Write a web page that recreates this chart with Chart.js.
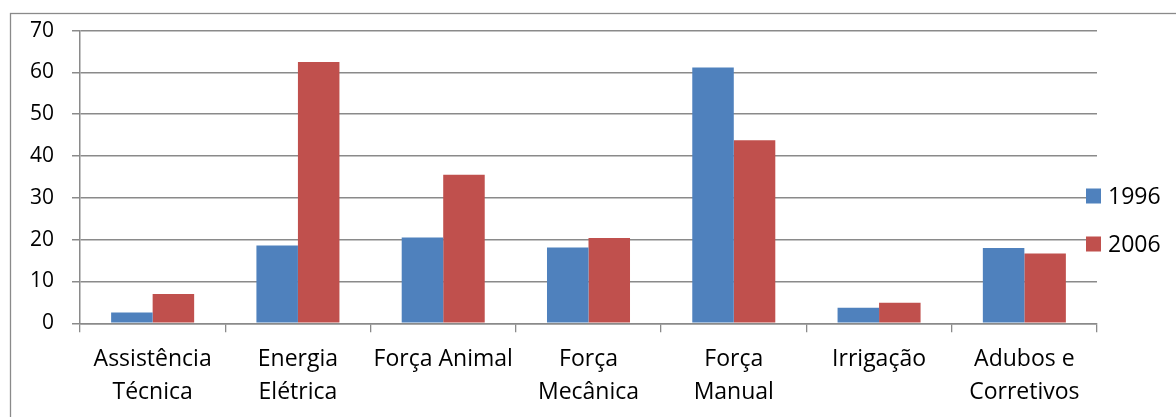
<!DOCTYPE html>
<html>
<head>
<meta charset="utf-8">
<script src="https://cdn.jsdelivr.net/npm/chart.js@4/dist/chart.umd.min.js"></script>
<style>
  html, body { margin: 0; padding: 0; background: #ffffff; }
  #wrap { width: 1176px; height: 417px; position: relative; }
</style>
</head>
<body>
<div id="wrap"><canvas id="c" width="1176" height="417"></canvas></div>
<script>
// Categorias (rótulos do eixo X, quebrados em linhas)
const categorias = [
  ['Assistência', 'Técnica'],
  ['Energia', 'Elétrica'],
  'Força Animal',
  ['Força', 'Mecânica'],
  ['Força', 'Manual'],
  'Irrigação',
  ['Adubos e', 'Corretivos']
];

// Séries
const rotulosSeries = ['1996', '2006'];
const valores1996 = [2.6, 18.6, 20.5, 18.1, 61.2, 3.7, 18.0];
const valores2006 = [7.0, 62.5, 35.5, 20.4, 43.8, 4.9, 16.7];

// Eixo Y
const yMin = 0;
const yMax = 70;
const yPasso = 10;

const AZUL = '#4F81BD';
const VERMELHO = '#C0504D';
const CINZA = '#8a8a8a';
const FONTE = "'Open Sans', 'Noto Sans', sans-serif";

// Moldura externa do gráfico
const moldura = {
  id: 'moldura',
  beforeDraw(chart) {
    const ctx = chart.ctx;
    ctx.save();
    ctx.fillStyle = '#ffffff';
    ctx.fillRect(0, 0, chart.width, chart.height);
    ctx.strokeStyle = CINZA;
    ctx.lineWidth = 1.3;
    ctx.strokeRect(10.5, 13.5, chart.width + 10, chart.height + 10);
    ctx.restore();
  }
};

// Legenda à direita, sobreposta ao fim das linhas de grade
const legendaLateral = {
  id: 'legendaLateral',
  afterDraw(chart) {
    const ctx = chart.ctx;
    const area = chart.chartArea;
    const x0 = area.right - 11;
    const centros = [196, 244];
    ctx.save();
    ctx.font = '23px ' + FONTE;
    ctx.textBaseline = 'middle';
    ctx.textAlign = 'left';
    chart.data.datasets.forEach((ds, i) => {
      const cy = centros[i];
      ctx.fillStyle = ds.backgroundColor;
      ctx.fillRect(x0, cy - 7.5, 15, 15);
      ctx.fillStyle = '#000000';
      ctx.fillText(ds.label, x0 + 22, cy + 1);
    });
    ctx.restore();
  }
};

new Chart(document.getElementById('c'), {
  type: 'bar',
  data: {
    labels: categorias,
    datasets: [
      { label: rotulosSeries[0], data: valores1996, backgroundColor: AZUL },
      { label: rotulosSeries[1], data: valores2006, backgroundColor: VERMELHO }
    ]
  },
  options: {
    responsive: false,
    animation: false,
    devicePixelRatio: 1,
    layout: { padding: { left: 0, right: 79, top: 29, bottom: 0 } },
    datasets: {
      bar: { categoryPercentage: 2 / 3.5, barPercentage: 1.0 }
    },
    plugins: {
      legend: { display: false },
      tooltip: { enabled: false }
    },
    scales: {
      x: {
        offset: true,
        grid: {
          offset: true,
          drawOnChartArea: false,
          drawTicks: true,
          tickLength: 9,
          color: CINZA,
          lineWidth: 1.3
        },
        border: { display: true, color: CINZA, width: 1.5 },
        ticks: {
          color: '#000000',
          padding: 11,
          maxRotation: 0,
          autoSkip: false,
          font: { family: FONTE, size: 23, lineHeight: 1.42 }
        },
        afterFit(scale) { scale.height = 93.7; }
      },
      y: {
        min: yMin,
        max: yMax,
        grid: {
          color: CINZA,
          lineWidth: 1.5,
          drawTicks: true,
          tickLength: 8
        },
        border: { display: true, color: CINZA, width: 1.5 },
        ticks: {
          stepSize: yPasso,
          color: '#000000',
          padding: 18,
          font: { family: FONTE, size: 21 }
        },
        afterFit(scale) { scale.width = 80; }
      }
    }
  },
  plugins: [moldura, legendaLateral]
});
</script>
</body>
</html>
